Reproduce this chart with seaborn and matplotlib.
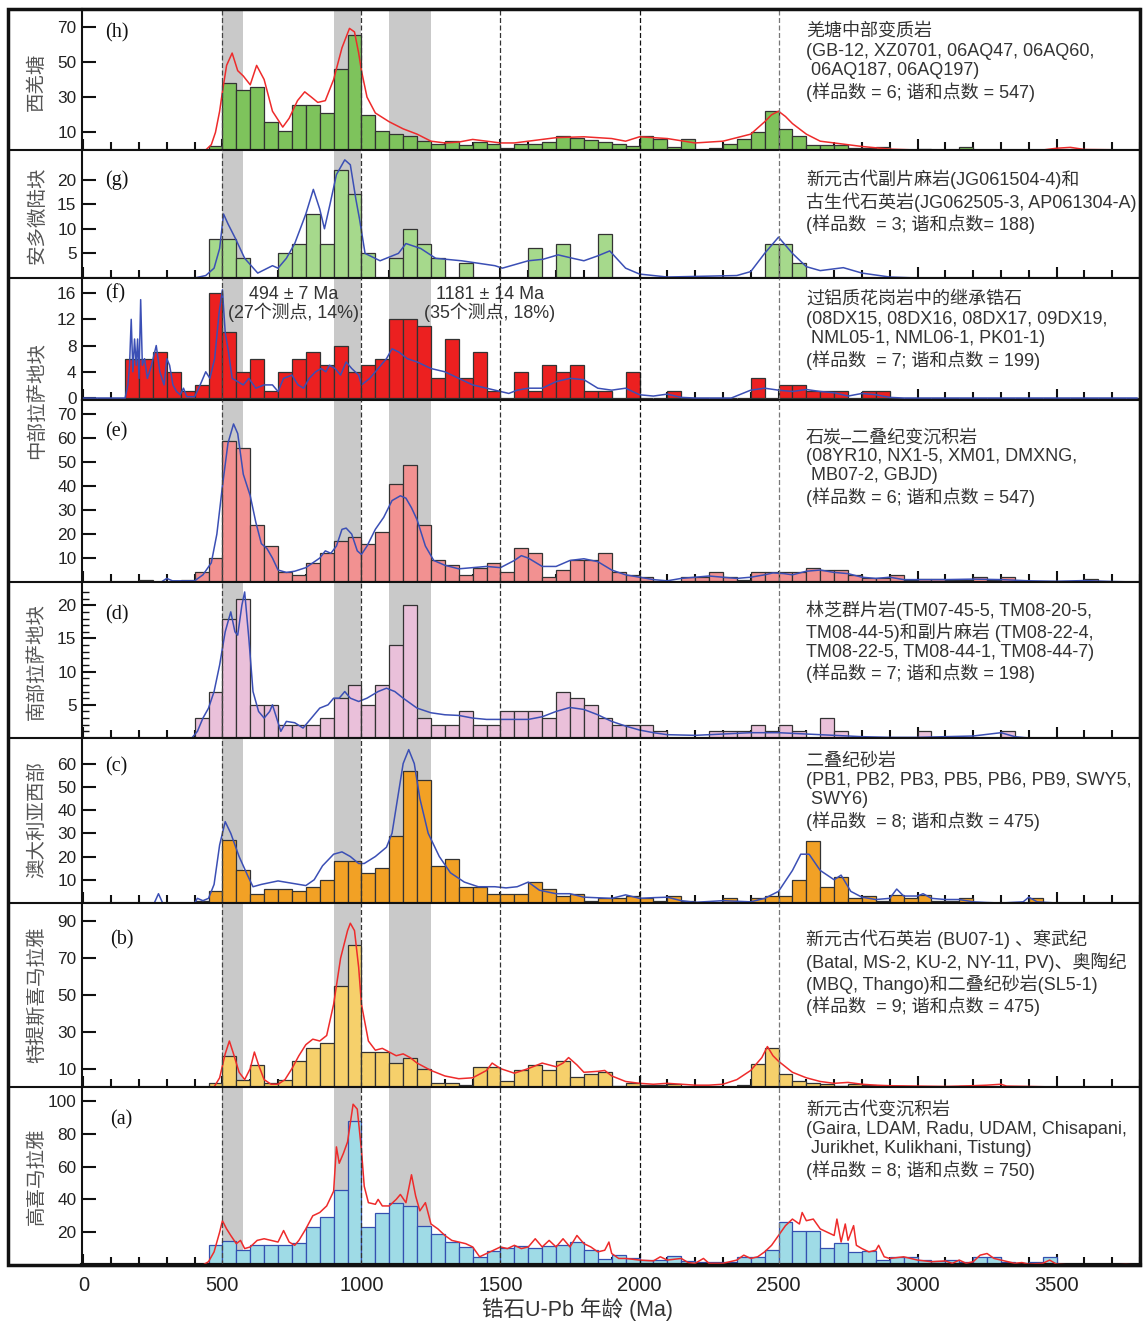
import numpy as np
import pandas as pd
import matplotlib
matplotlib.use("Agg")
import matplotlib.pyplot as plt
from matplotlib.lines import Line2D
from matplotlib.patches import Rectangle
import seaborn as sns

# ---------------- data (50 Ma bins, counts start at *_start) ----------------
BIN_W = 50
BIN_RANGE = (0, 3850)

# (h) 西羌塘
h_start = 450
h_counts = [2, 38, 34, 36, 16, 10.5, 25.5, 25.5, 21, 46, 65, 20, 10.5, 9, 8, 5, 3.5, 5, 2.7, 4.6,
            3.5, 1, 3.5, 3.5, 4.8, 8, 7, 5.5, 4.6, 3.3, 2, 8, 6, 1.7, 6.5, 0, 1, 3.3, 6.5, 10.3,
            22.4, 12, 8, 3, 3, 3, 1.3, 1.3, 1.7, 0, 0, 0.8, 0, 0, 1.7, 0, 0, 0, 0, 0, 0, 0, 0.6]
h_kde_age = [0, 440, 460, 475, 490, 500, 515, 535, 555, 575, 600, 623, 650, 680, 717, 740, 770, 796,
             820, 843, 870, 900, 930, 957, 975, 990, 1000, 1020, 1050, 1100, 1150, 1200, 1250, 1300,
             1350, 1400, 1450, 1500, 1550, 1600, 1700, 1800, 1900, 1950, 2000, 2100, 2200, 2300,
             2400, 2450, 2475, 2500, 2525, 2550, 2600, 2650, 2700, 2800, 2900, 3000, 3450, 3500,
             3550, 3600, 3790]
h_kde = [0, 0, 3, 10, 22, 33, 48, 55, 45, 42, 37, 48, 40, 22, 13, 18, 28, 33, 30, 27, 28, 40, 58,
         69, 67, 55, 45, 30, 21, 16, 12, 9, 5, 4, 4.5, 6, 5, 4, 4, 5, 7, 7.5, 6.5, 5, 7.5, 6.5, 4,
         5, 9, 16, 20, 22, 19, 15, 9, 5, 4, 2, 0.5, 0, 0, 1, 1.5, 0.3, 0]

# (g) 安多微陆块
g_start = 450
g_counts = [8, 8, 4, 0, 0, 5, 7, 13, 7, 22, 17, 5, 0, 4, 10, 7, 4, 0, 3, 0, 0, 0, 0, 6, 0, 7,
            0, 0, 9, 0, 0, 0, 0, 0, 0, 0, 0, 0, 0, 0, 7, 7, 3]
g_kde_age = [0, 400, 440, 470, 490, 504, 520, 547, 580, 627, 680, 700, 730, 760, 800, 827, 850,
             867, 887, 910, 940, 960, 980, 993, 1013, 1067, 1133, 1160, 1213, 1267, 1360, 1480,
             1507, 1600, 1653, 1707, 1760, 1800, 1850, 1893, 1950, 2000, 2100, 2350, 2400, 2450,
             2500, 2550, 2600, 2650, 2733, 2800, 2900, 3000, 3790]
g_kde = [0, 0, 0.5, 2, 6, 13, 11, 8, 4, 1, 2.5, 2, 4, 7, 13, 18, 14, 10, 15, 21, 24, 23, 16, 12,
         5, 3.5, 5, 7, 6, 4, 3.5, 2.5, 2, 3.5, 3.8, 4.7, 4, 3.5, 4.5, 5.5, 2, 0.8, 0.2, 0.5, 1.3,
         5, 8.3, 5, 2.3, 1.5, 2.1, 1, 0.2, 0, 0]

# (f) 中部拉萨地块 - 继承锆石
f_start = 150
f_counts = [6, 6, 7, 4, 1, 2, 16, 10, 4, 6, 1, 4, 6, 7, 5, 8, 4, 5, 6, 12, 12, 11, 3, 9, 3, 7,
            1, 0, 4, 1, 5, 4, 5, 1, 1, 0, 4, 0, 0, 1, 0, 0, 0, 0, 0, 3, 0, 2, 2, 1, 1, 1, 0, 1, 1]
f_kde_age = [0, 150, 160, 166, 172, 178, 184, 190, 195, 200, 206, 212, 220, 230, 245, 262, 275,
             290, 300, 310, 322, 335, 348, 360, 372, 400, 420, 440, 455, 472, 488, 500, 510, 522,
             535, 555, 575, 595, 620, 650, 680, 700, 720, 750, 772, 792, 812, 835, 855, 872, 885,
             905, 925, 945, 965, 990, 1000, 1030, 1060, 1090, 1110, 1135, 1165, 1200, 1250, 1300,
             1350, 1400, 1450, 1500, 1530, 1560, 1600, 1650, 1700, 1750, 1800, 1850, 1900, 1950,
             2000, 2050, 2100, 2150, 2200, 2330, 2400, 2450, 2500, 2550, 2600, 2650, 2700, 2750,
             2800, 2850, 2900, 2950, 3790]
f_kde = [0, 0, 2, 5, 12, 4, 9, 5, 9, 3, 15, 5, 6, 3, 5, 8, 4, 2, 6, 5, 2, 1, 0.5, 1.5, 0.2, 0.2,
         2, 4, 3, 6, 13, 16.5, 10, 7, 3, 2.5, 2, 3, 1.5, 2, 2, 1, 3, 3.5, 2, 1.5, 3, 4, 4.5, 4, 5,
         4.5, 3.5, 5.5, 4.5, 3.5, 2, 3, 4.5, 6, 7.5, 7, 6, 5.5, 4.5, 4, 3, 2, 1.5, 1, 0.7, 1.2,
         1.5, 1.5, 2.5, 3, 2.8, 1.5, 1.2, 1.5, 0.5, 0.3, 0.6, 0.1, 0, 0, 1.2, 1.5, 1.2, 1, 1.3, 1,
         0.8, 0.3, 0.7, 0.5, 0.1, 0, 0]

# (e) 中部拉萨地块 - 石炭-二叠纪
e_start = 200
e_counts = [1, 0, 0, 1, 4, 10, 59, 56, 24, 15, 4, 3, 8, 12, 17, 19, 16, 21, 41, 49, 24, 9, 7, 3,
            6, 8, 4, 14, 12, 2, 5, 9, 9, 12, 4, 3, 2, 0.5, 0, 2, 2, 4, 2, 1, 4, 4, 4, 4, 6, 5, 5,
            3, 1.5, 1.5, 3, 1, 1.3, 1.4, 1, 1, 2, 1, 2, 0, 0, 0, 0, 0, 1.3]
e_kde_age = [0, 280, 300, 320, 400, 430, 460, 480, 500, 520, 540, 555, 575, 600, 620, 640, 660,
             680, 700, 730, 760, 800, 850, 870, 890, 910, 930, 945, 965, 985, 1000, 1020, 1050,
             1080, 1110, 1140, 1160, 1180, 1200, 1230, 1260, 1300, 1350, 1400, 1450, 1500, 1550,
             1575, 1600, 1650, 1700, 1750, 1800, 1850, 1900, 1950, 2000, 2050, 2100, 2150, 2200,
             2250, 2300, 2350, 2400, 2450, 2480, 2520, 2550, 2600, 2650, 2700, 2750, 2800, 2850,
             2900, 2950, 3000, 3100, 3200, 3300, 3400, 3500, 3600, 3700, 3790]
e_kde = [0, 0, 1.5, 0.5, 0.5, 3, 8, 20, 40, 58, 66, 62, 45, 36, 25, 16, 14, 10, 5, 4, 4.5, 6,
         10, 13, 12, 15, 22, 22.5, 20, 13, 11.5, 15, 22, 27, 34, 36, 35, 31, 26, 15, 9, 7, 5.5, 6,
         6.5, 6, 9, 11, 10, 6.5, 6.5, 9, 9.7, 8.5, 5, 3, 2, 1, 0.5, 1.5, 2, 2.5, 2, 1.5, 2, 3,
         3.8, 3.5, 3, 4.5, 5, 4, 3.5, 2, 1.5, 2, 1, 1, 1, 1.2, 1, 0.5, 0.3, 0.6, 0.2, 0]

# (d) 南部拉萨地块
d_start = 400
d_counts = [3, 7, 18, 21, 5, 5, 2, 2, 2, 3, 6, 8, 5, 8, 14, 20, 3, 2, 2, 4, 2, 2, 4, 4, 4, 3,
            7, 6, 5, 3, 2, 2, 2, 1, 0, 0, 0, 1, 1, 1, 2, 1, 2, 1, 0, 3, 1, 0, 0, 0, 0, 0, 1, 0,
            0, 0, 0, 0, 1]
d_kde_age = [0, 390, 410, 430, 450, 470, 490, 510, 530, 545, 555, 570, 580, 595, 610, 630, 650,
             670, 680, 695, 710, 730, 760, 790, 820, 850, 880, 900, 920, 940, 960, 990, 1020, 1060,
             1090, 1120, 1150, 1200, 1250, 1300, 1350, 1400, 1450, 1500, 1550, 1600, 1650, 1700,
             1750, 1800, 1850, 1900, 1950, 2000, 2050, 2100, 2200, 2300, 2400, 2500, 2600, 2700,
             2800, 2900, 3000, 3200, 3300, 3350, 3400, 3790]
d_kde = [0, 0, 1, 3, 4.5, 7, 11, 16, 19, 16, 15.5, 20, 22, 15, 7, 4, 3, 4, 5, 3, 1, 2.5, 2.3,
         1.5, 3, 4.5, 5, 6, 6, 7, 6, 5.5, 6, 7, 7.5, 7, 6, 4.5, 3.8, 3.5, 3.4, 3, 2.8, 2.8, 2.8,
         2.8, 3.2, 4, 4.6, 4.3, 3.5, 2.5, 1.8, 1.2, 0.8, 0.5, 0.4, 0.6, 0.8, 0.8, 0.6, 0.4, 0.2,
         0.1, 0.1, 0.3, 0.8, 0.2, 0, 0]

# (c) 澳大利亚西部
c_start = 400
c_counts = [1, 5, 27, 14, 4, 6, 6, 5, 7, 10, 18, 18, 13, 15, 29, 57, 53, 16, 19, 7, 7, 4, 4, 4,
            9, 6, 3, 4, 1, 2, 2, 3, 2, 1, 3, 1, 0, 0, 2, 0, 2, 3, 3, 10, 26.5, 7, 11, 2, 3, 1, 3.5,
            2, 3.5, 1, 1, 2, 0, 0, 0, 0, 2]
c_kde_age = [0, 255, 270, 285, 400, 410, 430, 450, 470, 490, 510, 530, 560, 590, 610, 640, 700,
             750, 800, 830, 860, 900, 930, 960, 990, 1010, 1050, 1090, 1110, 1130, 1150, 1170,
             1190, 1210, 1240, 1280, 1320, 1370, 1420, 1480, 1520, 1560, 1600, 1640, 1700, 1750,
             1800, 1900, 1950, 2000, 2050, 2100, 2150, 2200, 2300, 2400, 2450, 2500, 2550, 2580,
             2610, 2650, 2700, 2725, 2760, 2800, 2850, 2900, 2925, 2950, 3000, 3020, 3050, 3100,
             3150, 3200, 3250, 3300, 3380, 3400, 3430, 3500, 3790]
c_kde = [0, 0, 4, 0, 0, 2, 1, 2, 8, 25, 35, 30, 20, 12, 7, 8, 9.5, 8.5, 7.5, 10, 16, 21, 22, 20,
         17, 17, 20, 24, 30, 45, 60, 66, 60, 45, 30, 20, 13, 9, 7, 7, 6.5, 7, 9, 5.5, 4, 4, 2.5,
         2, 3.5, 2, 2.3, 2.5, 1, 0.3, 1, 0.5, 2, 5, 14, 21, 21, 14, 10, 12, 5, 2.5, 1.5, 2, 6, 3,
         3, 4, 2, 1.5, 1.5, 0.5, 0.2, 0, 0.5, 2.5, 0.5, 0, 0]

# (b) 特提斯喜马拉雅
b_start = 450
b_counts = [2, 17, 4, 12, 2, 4, 14, 21, 24, 55, 77, 19, 19, 13, 16, 10, 2, 2, 1, 11, 11, 3, 9, 12,
            9, 14, 5.5, 7, 8, 0.5, 2.4, 1, 1, 1.5, 0, 0, 0, 0, 1, 12.5, 21, 7, 3.3, 2.4, 1.5, 0.5,
            1.8, 1, 0.5, 0.5, 0, 0, 0, 0, 0.5]
b_kde_age = [0, 470, 490, 510, 525, 540, 560, 580, 600, 615, 630, 650, 675, 700, 725, 750, 775,
             800, 825, 850, 875, 900, 925, 950, 960, 975, 990, 1000, 1025, 1050, 1075, 1100, 1125,
             1150, 1175, 1200, 1250, 1300, 1350, 1400, 1450, 1470, 1500, 1550, 1600, 1650, 1700,
             1725, 1745, 1775, 1800, 1850, 1875, 1900, 1950, 2000, 2050, 2100, 2150, 2200, 2250,
             2300, 2350, 2400, 2440, 2460, 2480, 2500, 2550, 2600, 2650, 2700, 2750, 2800, 2850,
             2900, 3000, 3100, 3200, 3250, 3300, 3320, 3400, 3500, 3790]
b_kde = [0, 0, 5, 18, 25, 18, 8, 4, 10, 19, 12, 4, 1.5, 1.5, 4, 10, 17, 23, 26, 25, 28, 45, 70,
         85, 89, 85, 65, 45, 25, 20, 21, 19, 17, 18, 16, 13, 9, 6, 4.5, 5, 9, 13, 10, 7.5, 10, 13,
         11, 13, 16, 12, 8, 8.5, 9, 6, 3, 2, 1.5, 2, 1.5, 1, 1, 1.5, 4, 9, 16, 22, 17, 14, 8, 5,
         3, 2, 2.5, 1.5, 1, 0.7, 0.5, 0.3, 0.7, 1, 1.5, 0.5, 0.3, 0, 0]

# (a) 高喜马拉雅
a_start = 450
a_counts = [12.4, 14.5, 9.4, 12.2, 12.2, 12.2, 13.5, 23, 29, 46, 88, 23, 32, 38, 36, 24, 19, 14,
            11, 5, 8.6, 10.6, 11.4, 10.4, 11.4, 12.2, 14.3, 9.4, 3.5, 6, 4.3, 3.3, 3.3, 5.3, 2.2,
            1.8, 1.6, 1.8, 5, 5, 9.4, 26, 20.6, 20.6, 10.6, 13.5, 7.8, 8.8, 3.3, 4.7, 4.7, 3.3,
            2.2, 3.3, 1.8, 5, 5, 1.8, 1.2, 1.8, 4.7]
a_kde_age = [0, 430, 450, 470, 490, 500, 515, 530, 550, 565, 580, 600, 625, 650, 675, 700, 720,
             740, 760, 775, 800, 825, 850, 875, 900, 910, 920, 935, 950, 970, 985, 1000, 1010,
             1025, 1050, 1060, 1075, 1100, 1125, 1140, 1160, 1180, 1195, 1210, 1230, 1250, 1275,
             1300, 1325, 1350, 1375, 1400, 1425, 1450, 1475, 1500, 1525, 1550, 1575, 1600, 1625,
             1650, 1675, 1700, 1725, 1750, 1775, 1800, 1825, 1850, 1875, 1890, 1900, 1925, 1950,
             2000, 2050, 2075, 2100, 2150, 2175, 2200, 2230, 2250, 2300, 2350, 2375, 2400, 2425,
             2450, 2475, 2500, 2525, 2550, 2575, 2585, 2600, 2625, 2650, 2675, 2700, 2710, 2725,
             2740, 2750, 2770, 2780, 2800, 2825, 2850, 2860, 2880, 2900, 2950, 3000, 3050, 3100,
             3125, 3150, 3175, 3200, 3225, 3250, 3275, 3300, 3325, 3350, 3375, 3400, 3450, 3475,
             3500, 3550, 3700, 3750, 3790]
a_kde = [0, 0, 2, 8, 20, 27, 22, 18, 13, 15, 10, 11, 15, 16, 15, 14, 21, 14, 12, 15, 22, 30, 32,
         36, 45, 72, 62, 68, 75, 98, 95, 70, 48, 38, 37, 40, 36, 36, 40, 43, 38, 55, 42, 33, 38,
         25, 22, 18, 15, 14, 13, 11, 5, 7, 9, 11, 10, 12, 10, 11, 16, 11, 15, 11, 16, 11, 18, 13,
         11, 8, 9, 14, 7, 4, 4, 3, 2.5, 5, 3, 4, 1.5, 1, 4, 1, 1, 3, 6, 4, 5, 8, 12, 18, 24, 28,
         25, 32, 27, 28, 22, 20, 18, 28, 14, 25, 15, 24, 12, 10, 8, 9, 12, 5, 4, 5, 3, 2, 2.5, 1,
         3, 1, 2, 6, 7, 4, 3, 2, 1, 1.5, 0.5, 1, 3, 0.5, 0, 0, 0.3, 0]

# ---------------- layout (pixel geometry of the reference) ----------------
W, H = 1143, 1322
left_px, right_px = 82, 1140
edges_px = [9, 150, 278, 400, 582, 738, 903, 1087, 1265]
xlim = (-5, 3782)

RED = "#ee2b2b"
BLUE = "#3b4fb5"

panels = [
    # tag, start, counts, kde age, kde, face, edge, line, ylim, yticks, tag offset(px), note, note offset(px)
    ("(h)", h_start, h_counts, h_kde_age, h_kde, "#7ec35c", "#333333", RED, (0, 80), [10, 30, 50, 70], 24,
     "羌塘中部变质岩\n(GB-12, XZ0701, 06AQ47, 06AQ60,\n 06AQ187, 06AQ197)\n(样品数 = 6; 谐和点数 = 547)", 15),
    ("(g)", g_start, g_counts, g_kde_age, g_kde, "#a6d98c", "#333333", BLUE, (0, 26), [5, 10, 15, 20], 30,
     "新元古代副片麻岩(JG061504-4)和\n古生代石英岩(JG062505-3, AP061304-A)\n(样品数  = 3; 谐和点数= 188)", 20),
    ("(f)", f_start, f_counts, f_kde_age, f_kde, "#ec2020", "#333333", BLUE, (-0.3, 18.3), [0, 4, 8, 12, 16], 16,
     "过铝质花岗岩中的继承锆石\n(08DX15, 08DX16, 08DX17, 09DX19,\n NML05-1, NML06-1, PK01-1)\n(样品数  = 7; 谐和点数 = 199)", 14),
    ("(e)", e_start, e_counts, e_kde_age, e_kde, "#f29191", "#333333", BLUE, (0, 76), [10, 20, 30, 40, 50, 60, 70], 32,
     "石炭–二叠纪变沉积岩\n(08YR10, NX1-5, XM01, DMXNG,\n MB07-2, GBJD)\n(样品数 = 6; 谐和点数 = 547)", 29),
    ("(d)", d_start, d_counts, d_kde_age, d_kde, "#eac0da", "#333333", BLUE, (0, 23.5), [5, 10, 15, 20], 33,
     "林芝群片岩(TM07-45-5, TM08-20-5,\nTM08-44-5)和副片麻岩 (TM08-22-4,\nTM08-22-5, TM08-44-1, TM08-44-7)\n(样品数 = 7; 谐和点数 = 198)", 18),
    ("(c)", c_start, c_counts, c_kde_age, c_kde, "#f2a125", "#333333", BLUE, (0, 71), [10, 20, 30, 40, 50, 60], 29,
     "二叠纪砂岩\n(PB1, PB2, PB3, PB5, PB6, PB9, SWY5,\n SWY6)\n(样品数  = 8; 谐和点数 = 475)", 15),
    ("(b)", b_start, b_counts, b_kde_age, b_kde, "#f6d06b", "#333333", RED, (0, 100), [10, 30, 50, 70, 90], 37,
     "新元古代石英岩 (BU07-1) 、寒武纪\n(Batal, MS-2, KU-2, NY-11, PV)、奥陶纪\n(MBQ, Thango)和二叠纪砂岩(SL5-1)\n(样品数  = 9; 谐和点数 = 475)", 27),
    ("(a)", a_start, a_counts, a_kde_age, a_kde, "#9fdbe6", "#3450b0", RED, (0, 108.5), [20, 40, 60, 80, 100], 33,
     "新元古代变沉积岩\n(Gaira, LDAM, Radu, UDAM, Chisapani,\n Jurikhet, Kulikhani, Tistung)\n(样品数 = 8; 谐和点数 = 750)", 15),
]

side_labels = [("西羌塘", 82), ("安多微陆块", 215), ("中部拉萨地块", 400), ("南部拉萨地块", 662),
               ("澳大利亚西部", 820), ("特提斯喜马拉雅", 995), ("高喜马拉雅", 1176)]

sns.set_style("white")
plt.rcParams["font.family"] = ["Liberation Sans", "Noto Sans CJK SC", "DejaVu Sans"]
plt.rcParams["axes.unicode_minus"] = False

fig = plt.figure(figsize=(W / 100, H / 100), dpi=100)


def fx(px):
    return px / W


def fy(py):
    return 1 - py / H


axes = []
for i, (tag, start, counts, kx, ky, face, edge, line, ylim, yt, tag_off, note, note_off) in enumerate(panels):
    top, bot = edges_px[i], edges_px[i + 1]
    ax = fig.add_axes([fx(left_px), fy(bot), fx(right_px - left_px), (bot - top) / H])
    axes.append(ax)

    # grey age bands
    for a0, a1 in [(500, 575), (900, 1000), (1100, 1250)]:
        ax.axvspan(a0, a1, color="#c9c9c9", lw=0, zorder=0)

    hist_df = pd.DataFrame({"age": start + 25 + BIN_W * np.arange(len(counts)), "n": counts})
    sns.histplot(data=hist_df, x="age", weights="n", binwidth=BIN_W, binrange=BIN_RANGE, ax=ax,
                 color=face, alpha=1, edgecolor=edge, linewidth=0.9, zorder=2)
    kde_df = pd.DataFrame({"age": kx, "density": ky})
    sns.lineplot(data=kde_df, x="age", y="density", ax=ax, color=line, linewidth=1.1, zorder=3)

    for xv, col in [(500, "#444444"), (1000, "#333333"), (1500, "#333333"), (2000, "#111111"), (2500, "#777777")]:
        ax.axvline(xv, color=col, lw=0.9, ls=(0, (4, 2)), zorder=4)

    ax.set_xlim(*xlim)
    ax.set_ylim(*ylim)
    ax.set_yticks(yt)
    ax.set_xticks(np.arange(0, 3501, 500))
    ax.set_xticks(np.arange(0, 3801, 100), minor=True)
    ax.set_xlabel("")
    ax.set_ylabel("")
    ax.tick_params(axis="both", which="major", direction="in", width=1.5, colors="#111111",
                   labelsize=12.4, labelcolor="#222222", left=True, bottom=True)
    ax.tick_params(axis="y", which="major", length=10, pad=4)
    ax.tick_params(axis="x", which="major", length=8)
    ax.tick_params(axis="x", which="minor", direction="in", length=6, width=1.5, colors="#111111",
                   bottom=True)
    if tag == "(d)":
        ax.set_yticks(np.arange(1, 23, 1), minor=True)
        ax.tick_params(axis="y", which="minor", direction="in", length=5, width=1.0, left=True,
                       colors="#111111")
    ax.tick_params(top=False, right=False)
    for sp in ax.spines.values():
        sp.set_linewidth(1.5)
        sp.set_color("#111111")

    if i < len(panels) - 1:
        ax.set_xticklabels([])
    else:
        ax.tick_params(axis="x", labelsize=14.5, pad=8)
        ax.spines["bottom"].set_linewidth(3)

    # panel tag and sample notes
    tag_x = 105 if tag not in ("(b)", "(a)") else 110
    fig.text(fx(tag_x), fy(top + tag_off), tag, family="Liberation Serif", fontsize=14.5,
             va="center", ha="left", color="#111111")
    fig.text(fx(806), fy(top + note_off), note, fontsize=13, va="top", ha="left",
             color="#333333", linespacing=1.17)

# peak age notes on panel (f)
fig.text(fx(294), fy(304), "494 ± 7 Ma\n(27个测点, 14%)", fontsize=12.9, ha="center", va="center",
         color="#333333", linespacing=1.0)
fig.text(fx(490), fy(304), "1181 ± 14 Ma\n(35个测点, 18%)", fontsize=12.9, ha="center", va="center",
         color="#333333", linespacing=1.0)

# left label column and outer frame
for label, yc in side_labels:
    fig.text(fx(37), fy(yc), label, rotation=90, fontsize=14, ha="center", va="center", color="#555555")
for py in edges_px[1:-1]:
    if py == 400:
        continue
    fig.add_artist(Line2D([fx(8), fx(left_px)], [fy(py), fy(py)], color="#111111", lw=1.5))
fig.add_artist(Rectangle((fx(8), fy(1265)), fx(1140 - 8), (1265 - 9) / H, fill=False,
                         edgecolor="#111111", lw=2.5))

fig.text(fx(578), fy(1309), "锆石U-Pb 年龄 (Ma)", fontsize=15.5, ha="center", va="center", color="#333333")

fig.savefig("out.png", dpi=100, facecolor="white")
